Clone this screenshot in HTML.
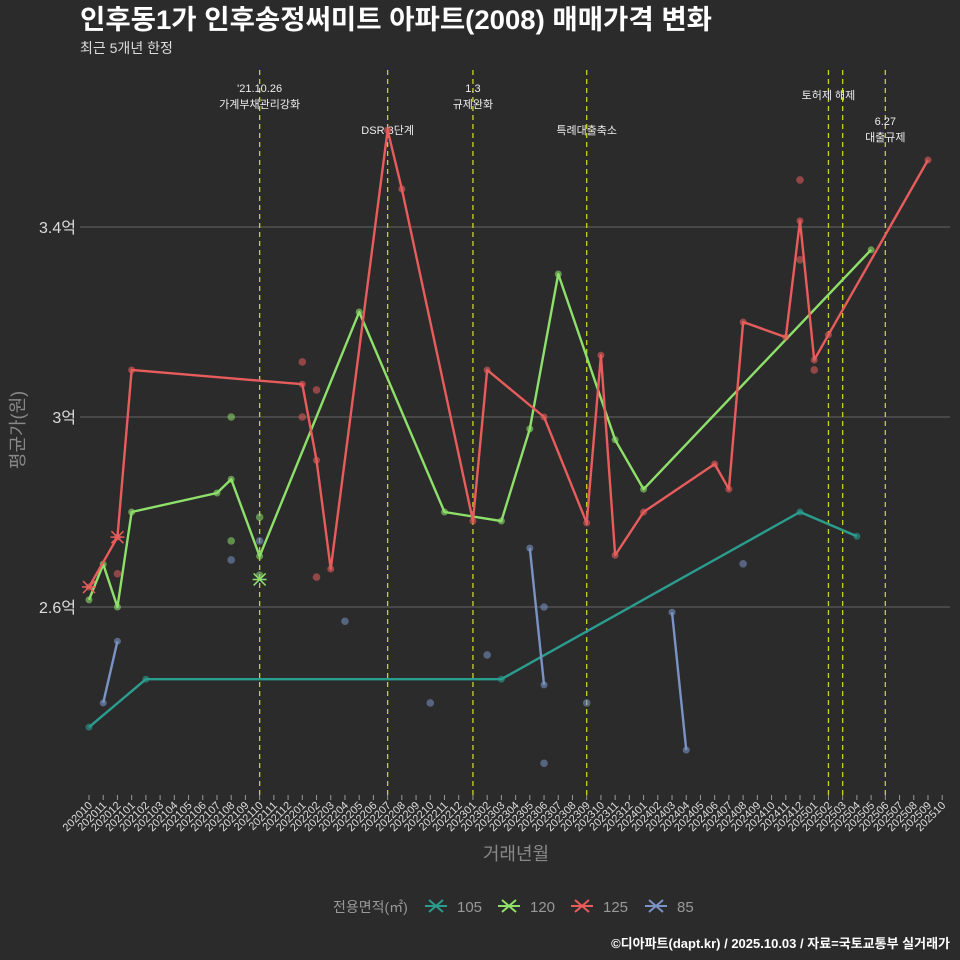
<!DOCTYPE html>
<html><head><meta charset="utf-8">
<style>
body{margin:0;background:#2b2b2b;}
svg{display:block;font-family:"Liberation Sans","Noto Sans CJK KR",sans-serif;}
</style></head>
<body>
<svg id="chart" width="960" height="960" viewBox="0 0 960 960">
<rect width="960" height="960" fill="#2b2b2b"/>
<text x="80" y="29" fill="#ffffff" font-size="27" font-weight="bold" textLength="632" lengthAdjust="spacingAndGlyphs">인후동1가 인후송정써미트 아파트(2008) 매매가격 변화</text>
<text x="80" y="53" fill="#dddddd" font-size="14">최근 5개년 한정</text>
<g id="grid"></g>
<g id="events"></g>
<g id="series"></g>
<g id="xaxis"></g>
<text x="0" y="0" transform="translate(24,430) rotate(-90)" fill="#888" font-size="18" text-anchor="middle">평균가(원)</text>
<text x="516" y="860" fill="#888" font-size="18" text-anchor="middle">거래년월</text>
<g id="legend">
<text x="333" y="912" fill="#999" font-size="14">전용면적(㎡)</text>
</g>
<text x="950" y="948" fill="#ffffff" font-size="13" font-weight="bold" text-anchor="end">©디아파트(dapt.kr) / 2025.10.03 / 자료=국토교통부 실거래가</text>
</svg>
<script>
const months = [];
for (let y = 2020, m = 10; months.length < 61; ) { months.push(String(y) + String(m).padStart(2, '0')); m++; if (m > 12) { m = 1; y++; } }
const yTicks = [26000, 30000, 34000];
const yTickLabels = ['2.6억', '3억', '3.4억'];
const eventMonths = ['202110', '202207', '202301', '202309', '202502', '202503', '202506'];
const eventLabels = [["'21.10.26", '가계부채관리강화'], ['DSR 3단계'], ['1.3', '규제완화'], ['특례대출축소'], ['토허제 해제'], [], ['6.27', '대출규제']];
const eventLabelY = [92, 134, 92, 134, 99, 0, 125];
const seriesNames = ['105', '120', '125', '85'];
const seriesColors = ['#2a9d8f', '#8ee06a', '#e85c5c', '#7a93c4'];
const s105Months = ['202010', '202102', '202303', '202412', '202504'];
const s105Values = [23470, 24480, 24480, 28000, 27490];
const s105Segments = [0, 0, 0, 0, 0];
const s120Months = ['202010', '202011', '202012', '202101', '202107', '202108', '202110', '202205', '202211', '202303', '202305', '202307', '202311', '202401', '202505'];
const s120Values = [26150, 26900, 26000, 28000, 28400, 28690, 27070, 32210, 28000, 27810, 29750, 33010, 29520, 28480, 33520];
const s120Segments = [0, 0, 0, 0, 0, 0, 0, 0, 0, 0, 0, 0, 0, 0, 0];
const s125Months = ['202010', '202012', '202101', '202201', '202202', '202203', '202207', '202208', '202301', '202302', '202306', '202309', '202310', '202311', '202401', '202406', '202407', '202408', '202411', '202412', '202501', '202502', '202509'];
const s125Values = [26420, 27470, 30990, 30690, 29090, 26800, 36040, 34800, 27810, 30990, 30000, 27770, 31300, 27090, 28000, 29010, 28480, 32000, 31680, 34130, 31200, 31730, 35410];
const s125Segments = [0, 0, 0, 0, 0, 0, 0, 0, 0, 0, 0, 0, 0, 0, 0, 0, 0, 0, 0, 0, 0, 0, 0];
const s85Months = ['202011', '202012', '202305', '202306', '202403', '202404'];
const s85Values = [23980, 25280, 27240, 24360, 25890, 22990];
const s85Segments = [0, 0, 1, 1, 2, 2];
const dotSeries = [2, 2, 2, 2, 2, 2, 2, 2, 1, 1, 1, 1, 3, 3, 3, 3, 3, 3, 3, 3, 3];
const dotMonths = ['202012', '202201', '202202', '202201', '202202', '202412', '202412', '202501', '202108', '202108', '202110', '202110', '202108', '202110', '202204', '202210', '202302', '202306', '202306', '202309', '202408'];
const dotValues = [26700, 31160, 30570, 30000, 26630, 34990, 33310, 30990, 30000, 27390, 27890, 26670, 26990, 27390, 25700, 23980, 24990, 26000, 22710, 23980, 26910];

const NS = 'http://www.w3.org/2000/svg';
const X0 = 89, DX = 14.22;
function xs(mo) { return X0 + months.indexOf(mo) * DX; }
function ys(v) { return 607 - (v - 26000) * 0.0475; }
function mk(tag, attrs, parent) { const e = document.createElementNS(NS, tag); for (const k in attrs) e.setAttribute(k, attrs[k]); parent.appendChild(e); return e; }

const grid = document.getElementById('grid');
yTicks.forEach((v, i) => {
  const l = mk('line', {x1: 80, x2: 950, y1: ys(v), y2: ys(v), stroke: '#595959', 'stroke-width': 1.2}, grid);
  
  
  const t = mk('text', {x: 76, y: ys(v) + 6, fill: '#dddddd', 'font-size': 16, 'text-anchor': 'end'}, grid);
  t.textContent = yTickLabels[i];
  
  
});

const ev = document.getElementById('events');
eventMonths.forEach((mo, i) => {
  const x = xs(mo);
  const l = mk('line', {x1: x, x2: x, y1: 70, y2: 795, stroke: '#c8d42a', 'stroke-width': 1.3, 'stroke-dasharray': '5,4'}, ev);
  
  
  eventLabels[i].forEach((s, j) => {
    const t = mk('text', {x: x, y: eventLabelY[i] + j * 16, fill: '#eeeeee', 'font-size': 11, 'text-anchor': 'middle'}, ev);
    t.textContent = s;
    
    
  });
});

const sg = document.getElementById('series');
const allM = [s105Months, s120Months, s125Months, s85Months];
const allV = [s105Values, s120Values, s125Values, s85Values];
const allS = [s105Segments, s120Segments, s125Segments, s85Segments];
dotMonths.forEach((mo, i) => {
  const c = mk('circle', {cx: xs(mo), cy: ys(dotValues[i]), r: 3.8, fill: seriesColors[dotSeries[i]], opacity: 0.55}, sg);
  
  
});
allM.forEach((ms, si) => {
  const segs = {};
  ms.forEach((mo, k) => { const s = allS[si][k]; (segs[s] = segs[s] || []).push(xs(mo) + ',' + ys(allV[si][k])); });
  Object.keys(segs).forEach(s => {
    const p = mk('polyline', {points: segs[s].join(' '), fill: 'none', stroke: seriesColors[si], 'stroke-width': 2.4, 'stroke-linejoin': 'round'}, sg);
    
    
  });
  ms.forEach((mo, k) => {
    const c = mk('circle', {cx: xs(mo), cy: ys(allV[si][k]), r: 3.5, fill: seriesColors[si], opacity: 0.6}, sg);
    
    
  });
});
const xMarks = [[2, '202010', 26420], [2, '202012', 27470], [1, '202110', 26580]];
xMarks.forEach(m => {
  const x = xs(m[1]), y = ys(m[2]);
  const g = mk('path', {d: `M${x-6},${y-6}L${x+6},${y+6}M${x-6},${y+6}L${x+6},${y-6}M${x-7},${y}L${x+7},${y}`, stroke: seriesColors[m[0]], 'stroke-width': 1.5}, sg);
  
  
});

const xa = document.getElementById('xaxis');
months.forEach(mo => {
  const x = xs(mo);
  const tk = mk('line', {x1: x, x2: x, y1: 795, y2: 800, stroke: '#999', 'stroke-width': 1}, xa);
  
  
  const t = mk('text', {x: 0, y: 0, transform: `translate(${x + 4},${806}) rotate(-45)`, fill: '#dddddd', 'font-size': 11, 'text-anchor': 'end'}, xa);
  t.textContent = mo;
  
  
});

const lg = document.getElementById('legend');
const lx = [423, 496, 569, 643];
seriesNames.forEach((n, i) => {
  const x = lx[i] + 13, y = 906;
  const g = mk('path', {d: `M${x-7},${y-6}L${x+7},${y+6}M${x-7},${y+6}L${x+7},${y-6}M${x-11},${y}L${x+11},${y}`, stroke: seriesColors[i], 'stroke-width': 2}, lg);
  
  
  const t = mk('text', {x: lx[i] + 34, y: 912, fill: '#999', 'font-size': 15}, lg);
  t.textContent = n;
  
  
});
</script>
</body></html>
